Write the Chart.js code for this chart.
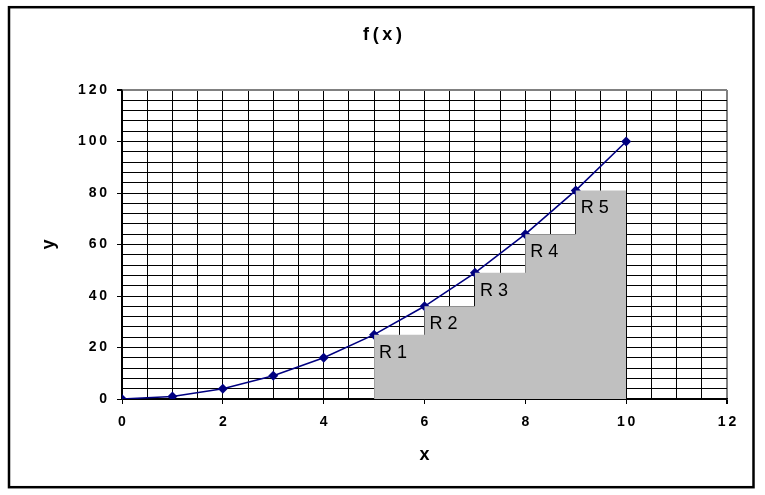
<!DOCTYPE html>
<html>
<head>
<meta charset="utf-8">
<script src="https://cdn.jsdelivr.net/npm/chart.js@4/dist/chart.umd.min.js"></script>
<style>
html,body{margin:0;padding:0;background:#fff;}
#wrap{position:absolute;left:0;top:0;width:765px;height:495px;}
</style>
</head>
<body>
<div id="wrap"><canvas id="c" width="765" height="495"></canvas></div>
<script>
// ---- data ----
const xValues = [0, 1, 2, 3, 4, 5, 6, 7, 8, 9, 10];
const fValues = [0, 1, 4, 9, 16, 25, 36, 49, 64, 81, 100];
const rectLeft = [5, 6, 7, 8, 9];
const rectWidth = 1;
const rectHeight = [25, 36, 49, 64, 81];
const rectLabels = ['R 1', 'R 2', 'R 3', 'R 4', 'R 5'];
const xTickLabels = [0, 2, 4, 6, 8, 10, 12];
const yTickLabels = [0, 20, 40, 60, 80, 100, 120];
const chartTitle = 'f(x)';
const xTitle = 'x';
const yTitle = 'y';

const FONT = '"Liberation Sans", Arial, sans-serif';
const spaced = s => String(s).split('').join('\u2009');

const linePoints = xValues.map((x, i) => ({x: x, y: fValues[i]}));
const areaPoints = rectLeft.map((x, i) => ({x: x, y: rectHeight[i]}));
areaPoints.push({x: rectLeft[rectLeft.length - 1] + rectWidth, y: rectHeight[rectHeight.length - 1]});

const framePlugin = {
  id: 'frame',
  beforeDraw(chart) {
    const ctx = chart.ctx;
    ctx.save();
    ctx.fillStyle = '#fff';
    ctx.fillRect(0, 0, chart.width, chart.height);
    ctx.strokeStyle = '#000';
    ctx.lineWidth = 2.5;
    ctx.strokeRect(9, 7.2, 744.5, 480);
    ctx.restore();
  }
};

const rectLabelPlugin = {
  id: 'rectLabels',
  afterDatasetsDraw(chart) {
    const ctx = chart.ctx;
    const xs = chart.scales.x, ys = chart.scales.y;
    ctx.save();
    ctx.fillStyle = '#000';
    ctx.font = '18px ' + FONT;
    ctx.textAlign = 'left';
    ctx.textBaseline = 'alphabetic';
    rectLeft.forEach((x, i) => {
      ctx.fillText(rectLabels[i], xs.getPixelForValue(x) + 5, ys.getPixelForValue(rectHeight[i]) + 23);
    });
    ctx.restore();
  }
};

new Chart(document.getElementById('c'), {
  type: 'line',
  data: {
    datasets: [
      {
        label: 'rects',
        data: areaPoints,
        stepped: 'before',
        fill: 'origin',
        backgroundColor: '#C0C0C0',
        borderColor: 'rgba(0,0,0,0)',
        borderWidth: 0,
        pointRadius: 0
      },
      {
        label: 'f(x)',
        data: linePoints,
        borderColor: '#000080',
        backgroundColor: '#000080',
        borderWidth: 1.6,
        tension: 0,
        fill: false,
        pointStyle: 'rectRot',
        pointRadius: 5,
        pointBorderWidth: 0,
        pointBackgroundColor: '#000080'
      }
    ]
  },
  options: {
    responsive: false,
    animation: false,
    devicePixelRatio: 1,
    layout: {padding: {left: 38, right: 38, top: 0, bottom: 10}},
    plugins: {
      legend: {display: false},
      tooltip: {enabled: false},
      title: {
        display: true,
        text: chartTitle.split('').join('\u2009'),
        color: '#000',
        font: {family: FONT, size: 18, weight: 'bold'},
        padding: {top: 24, bottom: 44.4}
      }
    },
    scales: {
      x: {
        type: 'linear',
        min: 0, max: 12,
        afterFit(s) { s.height = 86; },
        ticks: {
          stepSize: 0.5,
          autoSkip: false,
          maxRotation: 0,
          padding: 10,
          color: '#000',
          font: {family: FONT, size: 14, weight: 'bold'},
          callback: v => xTickLabels.includes(v) ? spaced(v) : ''
        },
        grid: {
          color: c => (c.tick && c.tick.value === 12) ? '#808080' : '#000',
          lineWidth: c => (c.tick && c.tick.value === 12) ? 2 : 1,
          tickColor: c => (c.tick && xTickLabels.includes(c.tick.value)) ? '#000' : 'rgba(0,0,0,0)',
          tickLength: 5
        },
        border: {color: '#000', width: 1.5},
        title: {
          display: true, text: xTitle, color: '#000',
          font: {family: FONT, size: 18, weight: 'bold'},
          padding: {top: 0, bottom: 19}
        }
      },
      y: {
        type: 'linear',
        min: 0, max: 120,
        afterFit(s) { s.width = 84; },
        ticks: {
          stepSize: 4,
          autoSkip: false,
          padding: 10,
          color: '#000',
          font: {family: FONT, size: 14, weight: 'bold'},
          callback: v => yTickLabels.includes(v) ? spaced(v) : ''
        },
        grid: {
          color: c => (c.tick && c.tick.value === 120) ? '#808080' : '#000',
          lineWidth: c => (c.tick && c.tick.value === 120) ? 2 : 1,
          tickColor: c => (c.tick && yTickLabels.includes(c.tick.value)) ? '#000' : 'rgba(0,0,0,0)',
          tickLength: 5
        },
        border: {color: '#000', width: 1.5},
        title: {
          display: true, text: yTitle, color: '#000',
          font: {family: FONT, size: 18, weight: 'bold'},
          padding: {top: 0, bottom: 0}
        }
      }
    }
  },
  plugins: [framePlugin, rectLabelPlugin]
});
</script>
</body>
</html>
